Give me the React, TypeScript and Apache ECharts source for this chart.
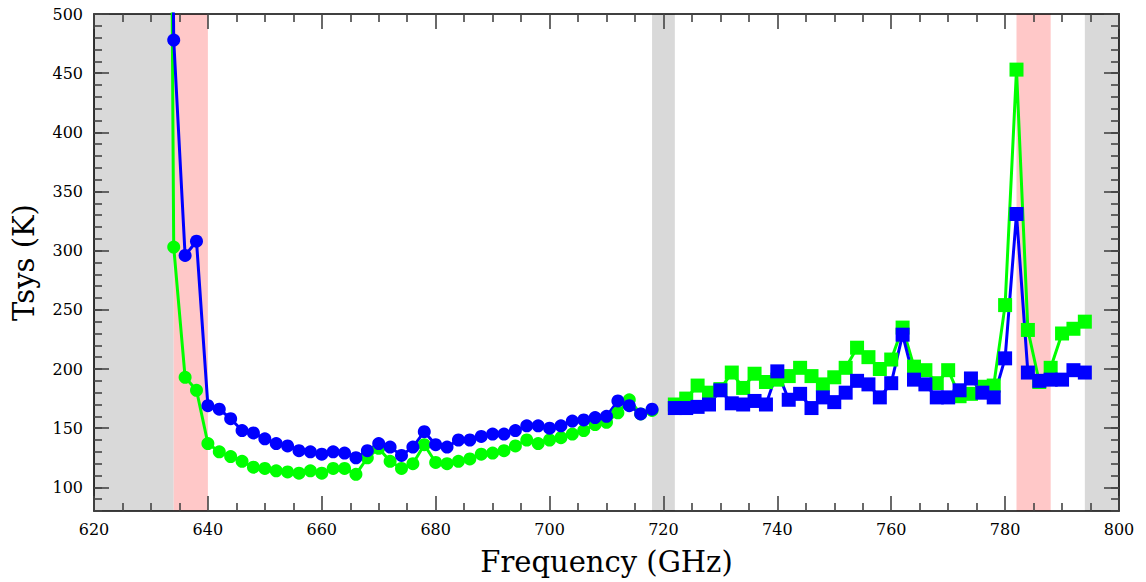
import React, { useEffect, useRef } from "react";
import * as echarts from "echarts";

// Frequencies (GHz) for the circle (lower band) and square (upper band) series
const freqLow = [632, 634, 636, 638, 640, 642, 644, 646, 648, 650, 652, 654, 656, 658, 660, 662, 664, 666, 668, 670, 672, 674, 676, 678, 680, 682, 684, 686, 688, 690, 692, 694, 696, 698, 700, 702, 704, 706, 708, 710, 712, 714, 716, 718];
const blueLow = [1500, 478, 296, 308, 169, 166, 158, 148, 146, 141, 137, 135, 131, 130, 128, 130, 129, 125, 131, 137, 134, 127, 134, 147, 136, 134, 140, 140, 143, 145, 145, 148, 152, 152, 150, 152, 156, 157, 159, 160, 173, 169, 162, 166];
const greenLow = [1800, 303, 193, 182, 137, 130, 126, 122, 117, 116, 114, 113, 112, 114, 112, 116, 116, 111, 125, 133, 122, 116, 120, 136, 121, 120, 122, 124, 128, 129, 131, 135, 140, 137, 140, 142, 145, 148, 153, 155, 163, 174, 162, 165];

const freqHigh = [722, 724, 726, 728, 730, 732, 734, 736, 738, 740, 742, 744, 746, 748, 750, 752, 754, 756, 758, 760, 762, 764, 766, 768, 770, 772, 774, 776, 778, 780, 782, 784, 786, 788, 790, 792, 794];
const blueHigh = [167, 167, 168, 170, 182, 171, 170, 173, 170, 198, 174, 179, 167, 176, 172, 180, 190, 187, 176, 188, 229, 191, 187, 176, 176, 182, 192, 180, 176, 209, 331, 197, 190, 191, 191, 199, 197];
const greenHigh = [170, 175, 186, 180, 183, 197, 184, 196, 189, 191, 194, 201, 194, 187, 193, 201, 218, 210, 200, 208, 235, 202, 199, 188, 199, 177, 179, 185, 186, 254, 453, 233, 189, 201, 230, 234, 240];

// Shaded frequency ranges: [start, end, kind] (0 = gray, 1 = pink)
const bands = [
  [620, 634, 0],
  [634, 640, 1],
  [718, 722, 0],
  [782, 788, 1],
  [794, 800, 0],
];
const bandColors = ["#d9d9d9", "#ffc8c8"];

const yMajor = [100, 150, 200, 250, 300, 350, 400, 450, 500];

const FONT = "DejaVu Serif";
const BLUE = "#0000ff";
const GREEN = "#00ff00";
const TICK = "#444";

function pair(xs: number[], ys: number[]) {
  return xs.map((x, i) => [x, ys[i]]);
}

export default function App() {
  const ref = useRef<HTMLDivElement>(null);
  useEffect(() => {
    if (!ref.current) return;
    const chart = echarts.init(ref.current, undefined, { renderer: "svg" });
    const xBase = (show: boolean, pos: "bottom" | "top") => ({
      type: "value",
      position: pos,
      min: 620,
      max: 800,
      interval: 20,
      axisLine: { show: true, onZero: false, lineStyle: { color: "#000", width: 1.6 } },
      axisTick: { show: true, inside: true, length: 15, lineStyle: { color: TICK, width: 1.6 } },
      minorTick: { show: true, splitNumber: 4, length: 8, lineStyle: { color: TICK, width: 1.6 } },
      splitLine: { show: false },
      axisLabel: { show, color: "#000", fontFamily: FONT, fontSize: 16, margin: 10 },
      name: show ? "Frequency (GHz)" : "",
      nameLocation: "middle",
      nameGap: 36,
      nameTextStyle: { fontFamily: FONT, fontSize: 29, color: "#000" },
    });
    const yMinor = (show: boolean, pos: "left" | "right") => ({
      type: "value",
      position: pos,
      min: 80,
      max: 500,
      interval: 10,
      axisLine: { show: true, onZero: false, lineStyle: { color: "#000", width: 1.6 } },
      axisTick: { show: true, inside: true, length: 8, lineStyle: { color: TICK, width: 1.6 } },
      splitLine: { show: false },
      axisLabel: {
        show,
        customValues: yMajor,
        color: "#000",
        fontFamily: FONT,
        fontSize: 16,
        margin: 11,
        padding: [6, 0, 0, 0],
      },
      name: show ? "Tsys (K)" : "",
      nameLocation: "middle",
      nameGap: 56,
      nameTextStyle: { fontFamily: FONT, fontSize: 29, color: "#000" },
    });
    const yMajorAxis = (pos: "left" | "right") => ({
      type: "value",
      position: pos,
      min: 80,
      max: 500,
      axisLine: { show: false },
      axisTick: { show: true, inside: true, length: 15, customValues: yMajor, lineStyle: { color: TICK, width: 1.6 } },
      splitLine: { show: false },
      axisLabel: { show: false },
    });
    const lineSeries = (name: string, data: number[][], color: string, symbol: string, size: number) => ({
      name,
      type: "line",
      xAxisIndex: 0,
      yAxisIndex: 0,
      data,
      symbol,
      symbolSize: size,
      showAllSymbol: true,
      clip: true,
      lineStyle: { color, width: 3 },
      itemStyle: { color, borderWidth: 0 },
      z: 3,
    });
    chart.setOption({
      animation: false,
      backgroundColor: "#fff",
      grid: { left: 94, right: 27, top: 14, bottom: 71 },
      xAxis: [xBase(true, "bottom"), xBase(false, "top")],
      yAxis: [yMinor(true, "left"), yMajorAxis("left"), yMinor(false, "right"), yMajorAxis("right")],
      series: [
        {
          name: "bands",
          type: "custom",
          xAxisIndex: 0,
          yAxisIndex: 0,
          silent: true,
          z: -1,
          encode: { x: [0, 1] },
          data: bands,
          renderItem: (params: any, api: any) => {
            const cs = params.coordSys;
            const s = api.coord([api.value(0), 80]);
            const e = api.coord([api.value(1), 80]);
            return {
              type: "rect",
              shape: { x: s[0], y: cs.y, width: e[0] - s[0], height: cs.height },
              style: { fill: bandColors[api.value(2)] },
            };
          },
        },
        lineSeries("green-low", pair(freqLow, greenLow), GREEN, "circle", 13),
        lineSeries("blue-low", pair(freqLow, blueLow), BLUE, "circle", 13),
        lineSeries("green-high", pair(freqHigh, greenHigh), GREEN, "rect", 14),
        lineSeries("blue-high", pair(freqHigh, blueHigh), BLUE, "rect", 14),
      ],
    });
    return () => chart.dispose();
  }, []);
  return (
    <div
      ref={ref}
      style={{ position: "fixed", left: 0, top: 0, width: 1146, height: 582 }}
    />
  );
}
